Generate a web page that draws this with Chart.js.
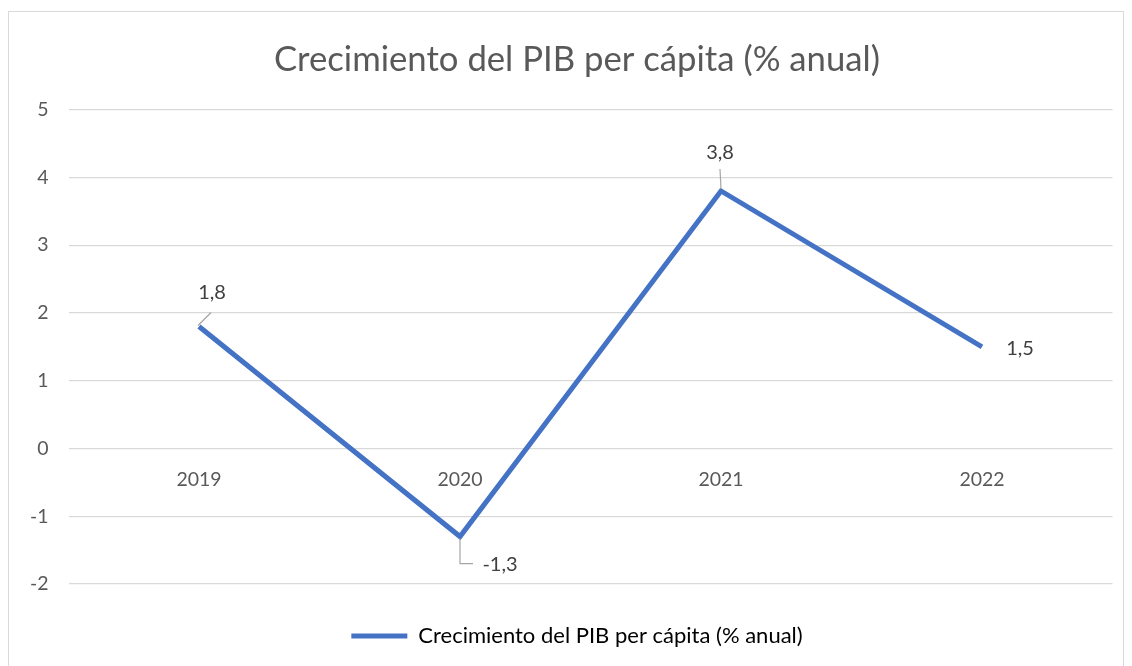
<!DOCTYPE html>
<html>
<head>
<meta charset="utf-8">
<script src="https://cdn.jsdelivr.net/npm/chart.js@4.4.1/dist/chart.umd.min.js"></script>
<style>
  html, body { margin: 0; padding: 0; background: #fff; overflow: hidden; }
  #box { position: absolute; left: 8px; top: 11px; width: 1116px; height: 680px; border: 1px solid #d9d9d9; box-sizing: border-box; overflow: hidden; }
  canvas { display: block; }
</style>
</head>
<body>
<div id="box"><canvas id="chart" width="1136" height="678"></canvas></div>
<script>
const years = ['2019', '2020', '2021', '2022'];
const growth = [1.8, -1.3, 3.8, 1.5];
const growthLabels = ['1,8', '-1,3', '3,8', '1,5'];
const seriesName = 'Crecimiento del PIB per cápita (% anual)';

const FONT = 'Lato, "Open Sans", sans-serif';
const blue = '#4472C4';

// etiquetas de datos con líneas guía, al estilo Excel
const dataLabels = {
  id: 'dataLabels',
  afterDatasetsDraw(chart) {
    const ctx = chart.ctx;
    const pts = chart.getDatasetMeta(0).data;
    // desplazamiento de cada etiqueta: [dx, dy, guía]
    const offs = [
      { dx: 13, dy: -34, lead: [[-1, -1], [12, -14]] },
      { dx: 40, dy: 28, lead: [[0, 2], [0, 27], [13, 27]] },
      { dx: -1, dy: -38, lead: [[-1, -22], [0, -2]] },
      { dx: 38, dy: 2, lead: null }
    ];
    ctx.save();
    ctx.font = '20px ' + FONT;
    ctx.fillStyle = '#404040';
    ctx.textAlign = 'center';
    ctx.textBaseline = 'middle';
    pts.forEach((p, i) => {
      const o = offs[i];
      if (o.lead) {
        ctx.strokeStyle = '#a6a6a6';
        ctx.lineWidth = 1.2;
        ctx.beginPath();
        o.lead.forEach((q, k) => {
          if (k === 0) ctx.moveTo(p.x + q[0], p.y + q[1]);
          else ctx.lineTo(p.x + q[0], p.y + q[1]);
        });
        ctx.stroke();
      }
      ctx.fillText(growthLabels[i], p.x + o.dx, p.y + o.dy);
    });
    ctx.restore();
  }
};

new Chart(document.getElementById('chart'), {
  type: 'line',
  data: {
    labels: years,
    datasets: [{
      label: seriesName,
      data: growth,
      xAxisID: 'x',
      yAxisID: 'y',
      borderColor: blue,
      backgroundColor: blue,
      borderWidth: 5,
      pointRadius: 0,
      tension: 0
    }]
  },
  options: {
    responsive: false,
    animation: false,
    layout: { padding: { top: 0, right: 0, bottom: 33, left: 0 } },
    plugins: {
      title: {
        display: true,
        text: seriesName,
        color: '#595959',
        font: { family: FONT, size: 34.7, weight: 'normal' },
        padding: { top: 27, bottom: 29 }
      },
      legend: {
        position: 'bottom',
        labels: {
          color: '#595959',
          font: { family: FONT, size: 22 },
          boxWidth: 56,
          boxHeight: 5,
          padding: 10,
          generateLabels: () => [{ text: seriesName, fillStyle: blue, strokeStyle: blue, lineWidth: 0 }]
        }
      },
      tooltip: { enabled: false }
    },
    scales: {
      x: {
        offset: true,
        position: { y: 0 },
        grid: { display: false },
        border: { display: false },
        ticks: { color: '#595959', font: { family: FONT, size: 19.5 }, padding: 12 }
      },
      y: {
        min: -2,
        max: 5,
        afterFit: s => { s.width = 59.5; },
        grid: { color: '#d9d9d9', lineWidth: 1.3, drawTicks: false },
        border: { display: false },
        ticks: { stepSize: 1, color: '#595959', font: { family: FONT, size: 19.5 }, padding: 20 }
      },
      // ejes vacíos: sólo reservan hueco (abajo antes de la leyenda, a la derecha)
      gap: {
        type: 'category',
        position: 'bottom',
        grid: { display: false },
        border: { display: false },
        ticks: { display: false },
        afterFit: s => { s.height = 31; }
      },
      gapRight: {
        type: 'linear',
        position: 'right',
        grid: { display: false },
        border: { display: false },
        ticks: { display: false },
        afterFit: s => { s.width = 32.5; }
      }
    }
  },
  plugins: [dataLabels]
});
</script>
</body>
</html>
